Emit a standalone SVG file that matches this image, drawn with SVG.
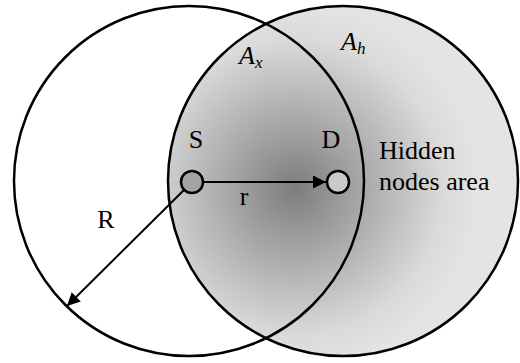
<svg xmlns="http://www.w3.org/2000/svg" width="520" height="363" viewBox="0 0 520 363">
<defs>
<radialGradient id="shade" gradientUnits="userSpaceOnUse" cx="295" cy="188" r="185">
<stop offset="0" stop-color="#7d7d7d"/>
<stop offset="0.45" stop-color="#b2b2b2"/>
<stop offset="0.8" stop-color="#dadada"/>
<stop offset="1" stop-color="#e4e4e4"/>
</radialGradient>
<marker id="ahb" viewBox="0 0 10 10" refX="10" refY="5" markerWidth="16" markerHeight="13" markerUnits="userSpaceOnUse" orient="auto">
<path d="M0,0 L10,5 L0,10 Z" fill="#000"/>
</marker>
</defs>
<style>
.rng{fill:none;stroke:#000;stroke-width:2.5}
.lbl{font-family:"Liberation Serif","Times New Roman",serif;font-size:26px;fill:#000}
.it{font-style:italic}
.node{stroke:#000;stroke-width:2.5}
.conn{stroke:#000;stroke-width:2;fill:none}
</style>
<g id="hidden-area">
<circle cx="343" cy="181" r="175" fill="url(#shade)"/>
</g>
<g id="range-S">
<circle class="rng" cx="189" cy="181" r="175"/>
</g>
<g id="range-D">
<circle class="rng" cx="343" cy="181" r="175"/>
</g>
<g id="connectors">
<line class="conn" x1="203" y1="182" x2="326" y2="182" marker-end="url(#ahb)"/>
<line class="conn" x1="184" y1="190" x2="67" y2="306" marker-end="url(#ahb)"/>
</g>
<g id="node-S">
<circle class="node" cx="192" cy="182" r="11" fill="#a3a3a3"/>
<text class="lbl" x="196" y="148" text-anchor="middle">S</text>
</g>
<g id="node-D">
<circle class="node" cx="338" cy="182" r="11" fill="#c9c9c9"/>
<text class="lbl" x="331" y="148" text-anchor="middle">D</text>
</g>
<g id="labels">
<text class="lbl" x="244" y="205" text-anchor="middle">r</text>
<text class="lbl" x="106" y="228" text-anchor="middle">R</text>
<text class="lbl it" x="239" y="64">A<tspan font-size="17" dy="4">x</tspan></text>
<text class="lbl it" x="341" y="50">A<tspan font-size="17" dy="4">h</tspan></text>
<text class="lbl" x="379" y="159">Hidden</text>
<text class="lbl" x="379" y="190">nodes area</text>
</g>
</svg>
